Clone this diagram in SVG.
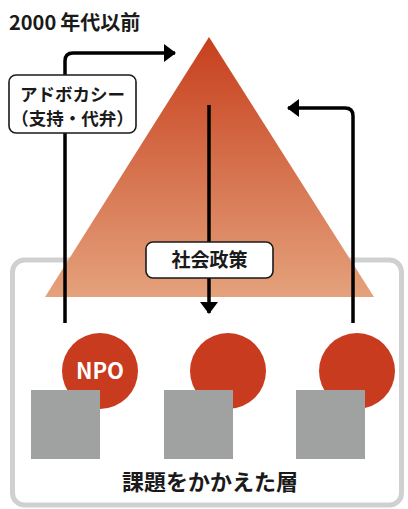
<svg xmlns="http://www.w3.org/2000/svg" width="408" height="509" viewBox="0 0 408 509">
<style>
text{font-family:"Noto Sans CJK JP","Noto Sans",sans-serif;font-weight:bold;fill:#1a1a1a}
.lbl{fill:#fff;stroke:#1a1a1a;stroke-width:1.6}
.conn{fill:none;stroke:#000;stroke-width:3.5}
.org{fill:#c83b1e}
.sq{fill:#a0a2a1}
</style>
<defs>
<linearGradient id="tg" x1="0" y1="0" x2="0" y2="1">
<stop offset="0" stop-color="#c73f1d"/>
<stop offset="1" stop-color="#e4a27c"/>
</linearGradient>
<marker id="ah" viewBox="0 0 12 18" refX="11" refY="9" markerWidth="12" markerHeight="18" markerUnits="userSpaceOnUse" orient="auto">
<path d="M0,0L12,9L0,18z" fill="#000"/>
</marker>
</defs>
<text x="9" y="30" font-size="20">2000<tspan dx="4">年代以前</tspan></text>
<g id="layer">
<rect x="12.5" y="260" width="389" height="245" rx="12" fill="none" stroke="#cfd1d0" stroke-width="5"/>
<text x="210" y="490" font-size="22" text-anchor="middle">課題をかかえた層</text>
</g>
<g id="society">
<polygon points="209,37 45,297 374,297" fill="url(#tg)"/>
</g>
<g id="connectors">
<path class="conn" d="M65,323V61Q65,53 73,53H175" marker-end="url(#ah)"/>
<path class="conn" d="M209,105V313" marker-end="url(#ah)"/>
<path class="conn" d="M353,323V116Q353,108 345,108H288" marker-end="url(#ah)"/>
</g>
<g id="advocacy">
<rect class="lbl" x="9" y="75" width="127" height="58" rx="7"/>
<text x="72.5" y="101" font-size="17.5" text-anchor="middle">アドボカシー</text>
<text x="72.5" y="125" font-size="17.5" text-anchor="middle">（支持・代弁）</text>
</g>
<g id="policy">
<rect class="lbl" x="146" y="242" width="127" height="36" rx="7"/>
<text x="209.5" y="267" font-size="19" text-anchor="middle">社会政策</text>
</g>
<g id="npo1">
<circle class="org" cx="100" cy="371" r="38"/>
<text x="100" y="379" font-size="22" text-anchor="middle" style="fill:#fff">NPO</text>
<rect class="sq" x="31" y="390" width="69" height="69"/>
</g>
<g id="npo2">
<circle class="org" cx="228" cy="371" r="38"/>
<rect class="sq" x="164" y="390" width="69" height="69"/>
</g>
<g id="npo3">
<circle class="org" cx="357" cy="371" r="38"/>
<rect class="sq" x="296" y="390" width="69" height="69"/>
</g>
</svg>
